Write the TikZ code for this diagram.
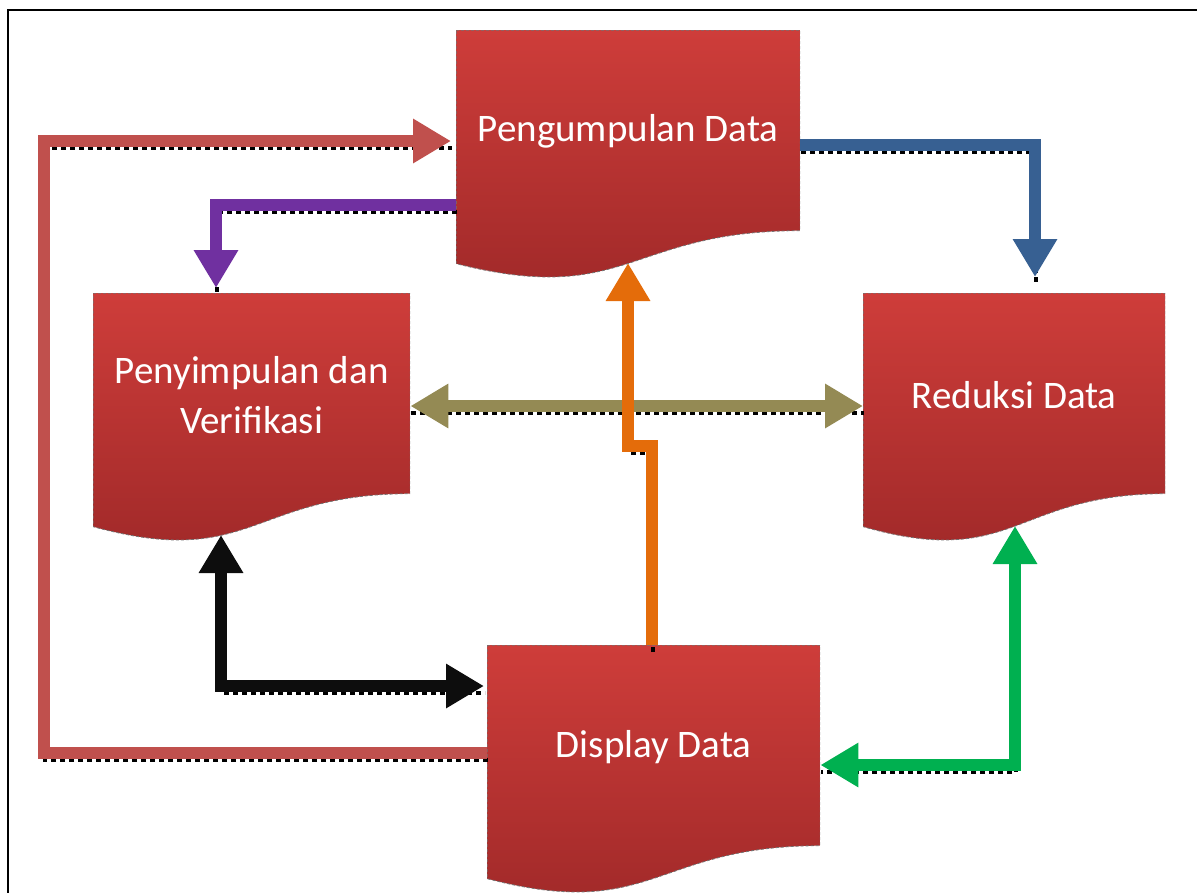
\documentclass[tikz,border=0pt]{standalone}
\usepackage{fontspec}
\setmainfont{Carlito}
\usetikzlibrary{arrows.meta,positioning,calc}

\definecolor{boxtop}{RGB}{206,61,58}
\definecolor{boxbot}{RGB}{158,40,40}
\definecolor{salmon}{HTML}{C0504D}
\definecolor{ungu}{HTML}{7030A0}
\definecolor{biru}{HTML}{376092}
\definecolor{zaitun}{HTML}{948A54}
\definecolor{jingga}{HTML}{E46C0A}
\definecolor{hijau}{HTML}{00B050}
\definecolor{hitam}{HTML}{0D0D0D}

\tikzset{
  docbox/.style={minimum width=#1, minimum height=247pt, inner sep=0pt, anchor=north west,
    path picture={
      \coordinate (nw) at (path picture bounding box.north west);
      \coordinate (ne) at (path picture bounding box.north east);
      \shade[top color=boxtop, bottom color=boxbot, draw=black!55, line width=0.8pt, dash pattern=on 3pt off 2pt]
        (nw) -- (ne) -- ++(0pt,-200.5pt)
        .. controls ($(nw)!0.5!(ne)+(0pt,-200.5pt)$) and ($(nw)!0.5!(ne)+(0pt,-276.75pt)$) .. ($(nw)+(0pt,-233.5pt)$) -- cycle;
    }},
  boxtext/.style={text=white, font=\fontsize{39}{50}\selectfont, align=center, yshift=22pt},
  flow/.style={line width=12pt, -{Triangle[length=38pt,width=42pt]},
    preaction={-, draw=black, line width=4pt, dash pattern=on 5pt off 4pt,
      transform canvas={shift={(1pt,-7pt)}}}},
  flow2/.style={flow, {Triangle[length=38pt,width=42pt]}-{Triangle[length=38pt,width=42pt]}},
}

\begin{document}
\begin{tikzpicture}[x=1pt,y=1pt]
    \useasboundingbox (0,0) rectangle (1197,-892);
    \clip (0,0) rectangle (1197,-892);
    % frame
    \draw[line width=2pt] (1210,-10) -- (8,-10) -- (8,-905);
    % Nodes
    \node[docbox=344pt, label={[boxtext]center:Pengumpulan Data}] (peng) at (456,-30) {};
    \node[docbox=317pt, label={[boxtext]center:Penyimpulan dan\\Verifikasi}] (simp) at (93,-293) {};
    \node[docbox=302pt, label={[boxtext]center:Reduksi Data}] (redu) at (863,-293) {};
    \node[docbox=333pt, label={[boxtext]center:Display Data}] (disp) at (487,-645) {};
    \coordinate (kiri) at (44,-141);
    \coordinate (jog) at (628,-446);
    % Arrows
    \draw[flow, salmon, shorten >=5pt] ($(disp.north west)+(0,-108)$) -| (kiri) -- ($(peng.north west)+(0,-111)$);
    \draw[flow, ungu, shorten >=5pt] ($(peng.north west)+(0,-175)$) -| ($(simp.north west)+(123,0)$);
    \draw[flow, biru, shorten >=16pt] ($(peng.north east)+(0,-115)$) -| ($(redu.north west)+(172,0)$);
    \draw[flow2, zaitun] ($(simp.north east)+(0,-113)$) -- ($(redu.north west)+(0,-113)$);
    \draw[flow, jingga] ($(disp.north west)+(165,0)$) |- (jog) -- ($(peng.north west)+(172,-233)$);
    \draw[flow2, hitam, shorten >=3pt] ($(simp.north west)+(128,-242)$) |- ($(disp.north west)+(0,-41)$);
    \draw[flow2, hijau] ($(redu.north west)+(152,-233)$) |- ($(disp.north east)+(0,-120)$);
\end{tikzpicture}
\end{document}
